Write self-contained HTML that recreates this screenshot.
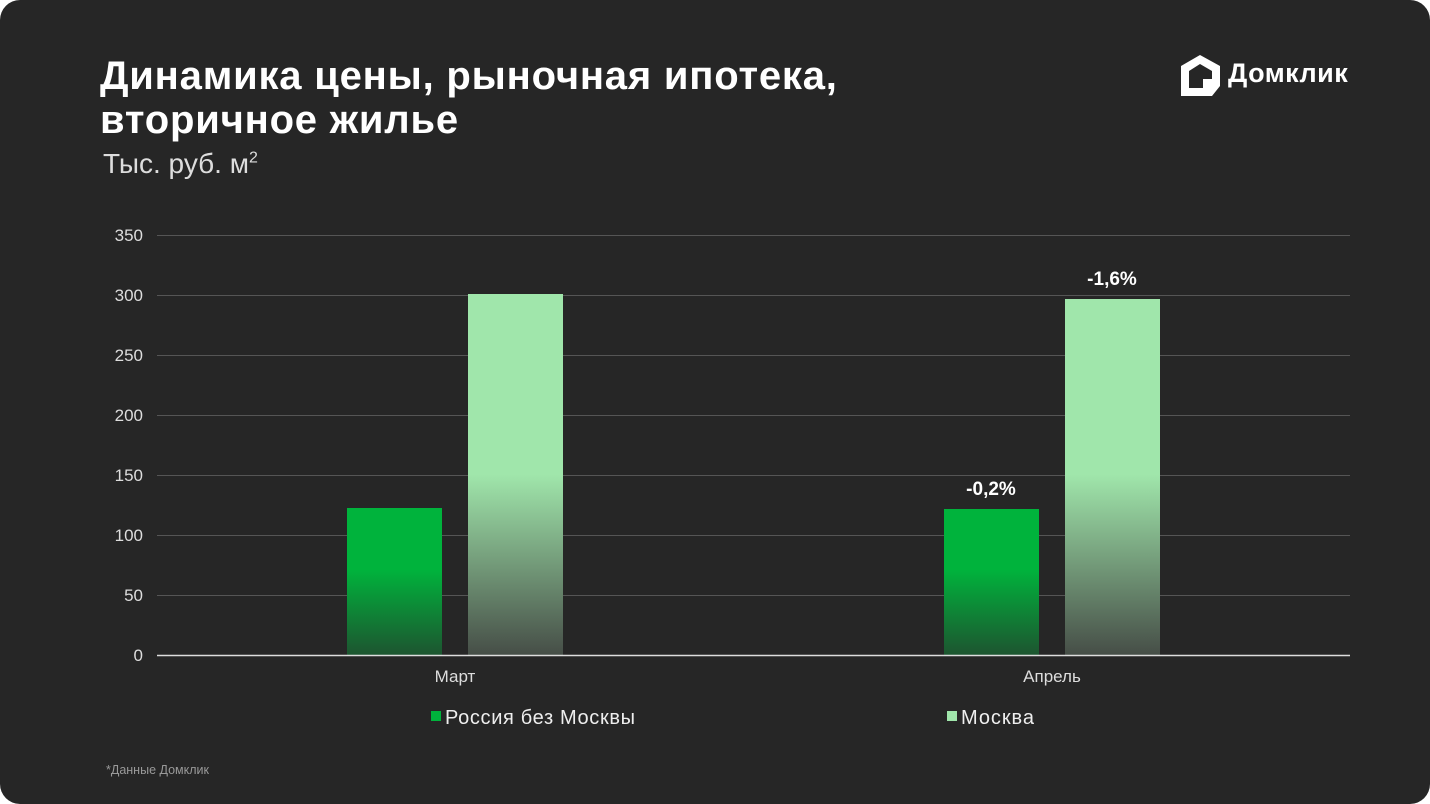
<!DOCTYPE html>
<html><head><meta charset="utf-8"><style>
html,body{margin:0;padding:0;background:#fff;}
#c{position:relative;width:1430px;height:804px;background:#262626;border-radius:20px;overflow:hidden;font-family:"Liberation Sans","DejaVu Sans",sans-serif;color:#fff;}
.t{position:absolute;white-space:nowrap;}
</style></head><body><div id="c">
<div class="t" style="left:100px;top:54px;font-size:40px;font-weight:bold;line-height:44px;letter-spacing:0.8px;">Динамика цены, рыночная ипотека,<br>вторичное жилье</div>
<div class="t" style="left:103px;top:148px;font-size:28px;color:#ddd;">Тыс. руб. м<sup style="font-size:16px">2</sup></div>
<div class="t" style="left:1228px;top:58px;font-size:27px;font-weight:bold;letter-spacing:0.5px;">Домклик</div>
<svg style="position:absolute;left:1178px;top:52px" width="46" height="46" viewBox="0 0 46 46"><path d="M3 14 L22 3 L42 14 L42 34 L34 44 L3 44 Z M11 19 L11 36 L25 36 L25 27 L34 27 L34 19 L22 12 Z" fill="#fff" fill-rule="evenodd"/></svg>
<svg style="position:absolute;left:0;top:0" width="1430" height="804">
<defs>
<linearGradient id="g1" x1="0" y1="508" x2="0" y2="655" gradientUnits="userSpaceOnUse"><stop offset="0" stop-color="#00b33c"/><stop offset="0.42" stop-color="#00b33c"/><stop offset="1" stop-color="#1d5530"/></linearGradient>
<linearGradient id="g2" x1="0" y1="294" x2="0" y2="655" gradientUnits="userSpaceOnUse"><stop offset="0" stop-color="#a0e6ab"/><stop offset="0.5" stop-color="#a0e6ab"/><stop offset="1" stop-color="#464e47"/></linearGradient>
</defs>
<g stroke="#555" stroke-width="1">
<line x1="157" y1="235.5" x2="1350" y2="235.5"/><line x1="157" y1="295.5" x2="1350" y2="295.5"/><line x1="157" y1="355.5" x2="1350" y2="355.5"/><line x1="157" y1="415.5" x2="1350" y2="415.5"/><line x1="157" y1="475.5" x2="1350" y2="475.5"/><line x1="157" y1="535.5" x2="1350" y2="535.5"/><line x1="157" y1="595.5" x2="1350" y2="595.5"/>
</g>
<rect x="347" y="508" width="95" height="147" fill="url(#g1)"/>
<rect x="468" y="294" width="95" height="361" fill="url(#g2)"/>
<rect x="944" y="509" width="95" height="146" fill="url(#g1)"/>
<rect x="1065" y="299" width="95" height="356" fill="url(#g2)"/>
<line x1="157" y1="655.5" x2="1350" y2="655.5" stroke="#ddd" stroke-width="1.5"/>
<g font-family="Liberation Sans,sans-serif" font-size="17" fill="#ddd" text-anchor="end">
<text x="143" y="241">350</text><text x="143" y="301">300</text><text x="143" y="361">250</text><text x="143" y="421">200</text><text x="143" y="481">150</text><text x="143" y="541">100</text><text x="143" y="601">50</text><text x="143" y="661">0</text>
</g>
<g font-family="Liberation Sans,sans-serif" font-size="17" fill="#ddd" text-anchor="middle">
<text x="455" y="682">Март</text><text x="1052" y="682">Апрель</text>
</g>
<g font-family="Liberation Sans,sans-serif" font-size="19" font-weight="bold" fill="#fff" text-anchor="middle">
<text x="991" y="495">-0,2%</text><text x="1112" y="285">-1,6%</text>
</g>
<rect x="431" y="711" width="10" height="10" fill="#00b33c"/>
<rect x="947" y="711" width="10" height="10" fill="#a0e6ab"/>
<g font-family="Liberation Sans,sans-serif" font-size="20" fill="#eee">
<text x="445" y="724" textLength="190">Россия без Москвы</text><text x="961" y="724" textLength="73">Москва</text>
</g>
<text x="106" y="774" font-family="Liberation Sans,sans-serif" font-size="12.5" fill="#999">*Данные Домклик</text>
</svg>
</div></body></html>
